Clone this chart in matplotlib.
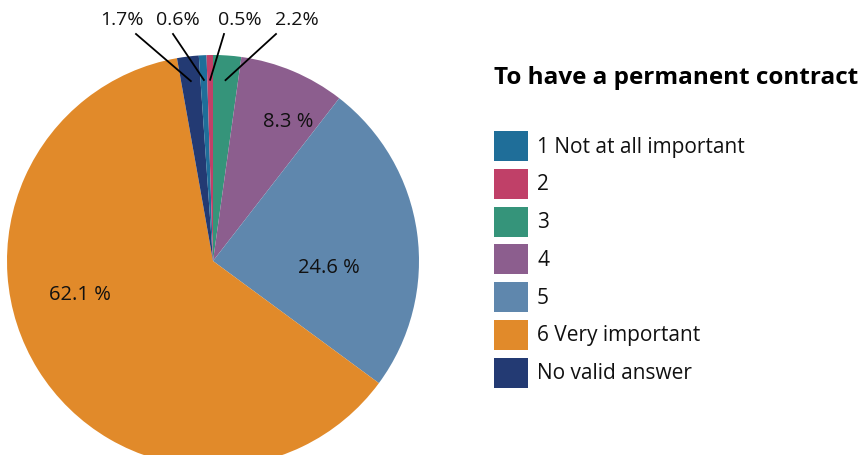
import numpy as np
import matplotlib.pyplot as plt
from matplotlib.patches import Rectangle

plt.rcParams['font.family'] = ['Open Sans', 'DejaVu Sans']

# wedge order, clockwise from 12 o'clock
slices = ['3', '4', '5', '6 Very important', 'No valid answer', '1 Not at all important', '2']
shares = [2.2, 8.3, 24.6, 62.1, 1.7, 0.6, 0.5]
slice_colors = ['#35947a', '#8c5e8e', '#5f87ad', '#e18a2a', '#233a73', '#1f6e99', '#c04068']

# legend order
legend_labels = ['1 Not at all important', '2', '3', '4', '5', '6 Very important', 'No valid answer']

title = 'To have a permanent contract'

W, H = 867, 456
fig = plt.figure(figsize=(W / 100, H / 100), dpi=100)

cx, cy, R = 213, 262, 206
ax = fig.add_axes([(cx - R) / W, (H - cy - R) / H, 2 * R / W, 2 * R / H])
wedges, _ = ax.pie(shares, colors=slice_colors, startangle=90, counterclock=False,
                   radius=1, wedgeprops=dict(linewidth=0))
ax.set_xlim(-1, 1)
ax.set_ylim(-1, 1)
ax.axis('off')


def px(x, y):
    # figure pixels -> pie data units
    return (x - cx) / R, (cy - y) / R


# big slices get their label inside
inside = {1: (288, 122), 2: (329, 268), 3: (80, 295)}
for i, (x, y) in inside.items():
    ax.text(*px(x, y), f'{shares[i]} %', ha='center', va='center', fontsize=14.5, color='#111111')

# small slices get a label above with a leader line
outside = {4: (122, 136), 5: (178, 173), 6: (240, 224), 0: (297, 276)}
for i, (tx, lx) in outside.items():
    w = wedges[i]
    mid = np.deg2rad((w.theta1 + w.theta2) / 2)
    ax.text(*px(tx, 20), f'{shares[i]}%', ha='center', va='center', fontsize=14,
            color='#111111', clip_on=False)
    x0, y0 = px(lx, 35)
    ax.plot([x0, 0.88 * np.cos(mid)], [y0, 0.88 * np.sin(mid)], color='black',
            linewidth=1.3, clip_on=False)

fig.text(494 / W, 1 - 78 / H, title, fontsize=17.5, fontweight='bold', va='center', ha='left')

color_of = dict(zip(slices, slice_colors))
for k, lab in enumerate(legend_labels):
    yc = 147 + k * 37.8
    fig.add_artist(Rectangle((494 / W, 1 - (yc + 15) / H), 34 / W, 30 / H,
                             transform=fig.transFigure, color=color_of[lab], linewidth=0))
    fig.text(537 / W, 1 - yc / H, lab, fontsize=15, va='center', ha='left', color='#111111')

fig.savefig('out.png', dpi=100)
